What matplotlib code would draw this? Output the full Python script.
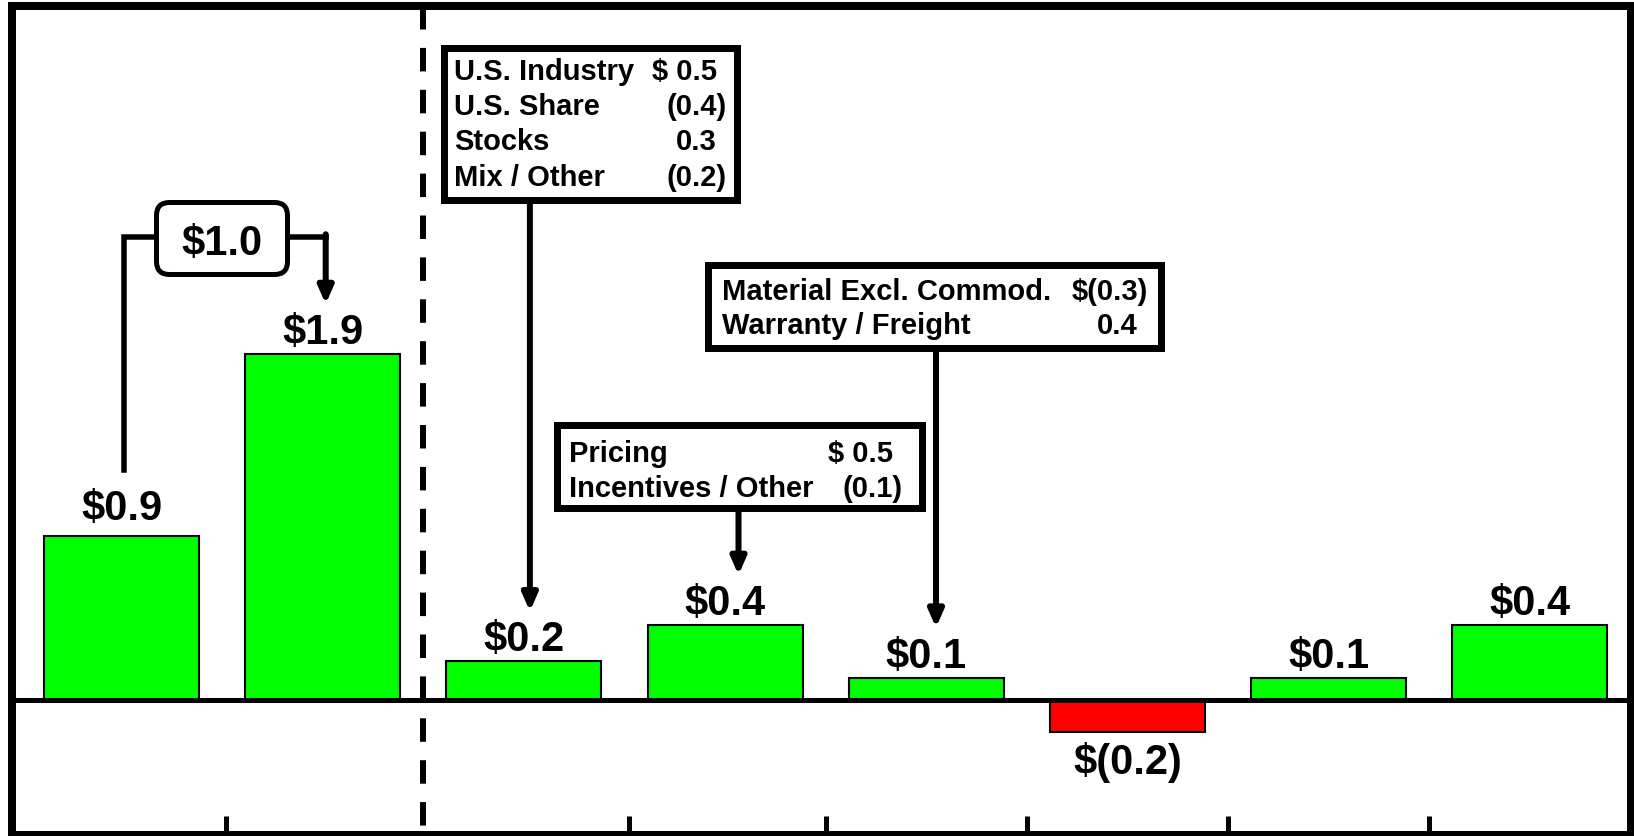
import numpy as np
import matplotlib
matplotlib.use('Agg')
import matplotlib.pyplot as plt
import matplotlib.transforms as mtransforms
from matplotlib.patches import Rectangle, FancyBboxPatch

plt.rcParams['font.family'] = ['Liberation Sans', 'DejaVu Sans']

# ---------------- data ----------------
values = [0.9, 1.9, 0.21, 0.41, 0.12, -0.18, 0.12, 0.41]

box1_items = ["U.S. Industry", "U.S. Share", "Stocks", "Mix / Other"]
box1_values = ["$ 0.5", "(0.4)", "0.3", "(0.2)"]
box2_items = ["Pricing", "Incentives / Other"]
box2_values = ["$ 0.5", "(0.1)"]
box3_items = ["Material Excl. Commod.", "Warranty / Freight"]
box3_values = ["$(0.3)", "0.4"]


def fmt(v):
    return f"${v:.1f}" if v >= 0 else f"$({abs(v):.1f})"


# ---------------- layout (reference pixels) ----------------
W, H, DPI = 1634, 836, 100
X0, Y0 = 121.5, 699.5      # pixel of data (0, 0)
SX, SY = 201.2, 181.8      # pixels per data unit
L, R, T, B = 12, 1631, 6, 835

fig = plt.figure(figsize=(W / DPI, H / DPI), dpi=DPI)
ax = fig.add_axes([L / W, 1 - B / H, (R - L) / W, (B - T) / H])
ax.set_xlim((L - X0) / SX, (R - X0) / SX)
ax.set_ylim((Y0 - B) / SY, (Y0 - T) / SY)

PX = mtransforms.Affine2D().scale(1, -1).translate(0, H)


def xd(px):
    return (px - X0) / SX


def yd(py):
    return (Y0 - py) / SY


def pxu(p):          # pixel length -> data y units
    return p / SY


def pt(p):           # pixels -> points
    return p * 72 / DPI


# ---------------- bars ----------------
x = np.arange(len(values))
colors = ['#00ff00' if v >= 0 else '#ff0000' for v in values]
ax.bar(x, values, width=0.77, color=colors, edgecolor='black',
       linewidth=1.5, zorder=2)
ax.axhline(0, color='black', lw=pt(5), zorder=3)

label_gap = {0: 16}   # pixel gap between bar top and label baseline
for i, v in enumerate(values):
    if v >= 0:
        ax.annotate(fmt(v), xy=(i, v), xytext=(0, pt(label_gap.get(i, 10))),
                    textcoords='offset points', ha='center', va='baseline',
                    fontsize=30, fontweight='bold', zorder=5)
    else:
        ax.annotate(fmt(v), xy=(i, v), xytext=(0, -pt(42)),
                    textcoords='offset points', ha='center', va='baseline',
                    fontsize=30, fontweight='bold', zorder=5)

# ---------------- frame / ticks ----------------
for s in ax.spines.values():
    s.set_linewidth(pt(8))
    s.set_color('black')
ax.set_xticks([0.52, 2.52, 3.5, 4.5, 5.5, 6.5])
ax.tick_params(axis='x', direction='in', length=pt(19), width=pt(5),
               labelbottom=False, color='black')
ax.set_yticks([])

# dashed divider
lw_d = pt(6)
ax.plot([1.5, 1.5], [yd(T), yd(B)], color='black', lw=lw_d,
        linestyle=(0, (pt(23.5) / lw_d, pt(18.4) / lw_d)), zorder=1,
        solid_capstyle='butt', dash_capstyle='butt')

# ---------------- callout boxes ----------------
BOX_FS = 21


def callout(x0, y0, x1, y1, items, vals, xl, base0, step, rpar):
    lw = 7
    ax.add_patch(Rectangle((xd(x0 + lw / 2), yd(y1 - lw / 2)),
                           xd(x1 - lw / 2) - xd(x0 + lw / 2),
                           yd(y0 + lw / 2) - yd(y1 - lw / 2),
                           fc='white', ec='black', lw=pt(lw), zorder=6))
    for k, (it, vv) in enumerate(zip(items, vals)):
        yb = yd(base0 + k * step)
        ax.text(xd(xl), yb, it, ha='left', va='baseline', fontsize=BOX_FS,
                fontweight='bold', zorder=7)
        xr = rpar if vv.endswith(')') else rpar - 10
        ax.text(xd(xr), yb, vv, ha='right', va='baseline', fontsize=BOX_FS,
                fontweight='bold', zorder=7)


ARROW = dict(arrowstyle='-|>,head_length=0.5,head_width=0.22', lw=pt(6),
             color='black', shrinkA=0, shrinkB=0, mutation_scale=20)


def arrow_to_bar(i, dx_px, y_from_px):
    xa = i + dx_px / SX
    ax.annotate('', xy=(xa, values[i] + pxu(50)), xytext=(xa, yd(y_from_px)),
                arrowprops=ARROW, zorder=5)


callout(440, 45, 740, 203, box1_items, box1_values, 454, 80, 35.2, 727)
arrow_to_bar(2, 6, 203)

callout(553, 422, 925, 512, box2_items, box2_values, 569, 462, 35, 903)
arrow_to_bar(3, 13.4, 512)

callout(704, 261, 1164, 351, box3_items, box3_values, 722, 300, 34, 1148)
arrow_to_bar(4, 9.7, 351)

# ---------------- $1.0 bracket ----------------
diff = values[1] - values[0]
yh = yd(237)
bx0, bx1 = 154, 290
xl_ = 0 + 2.5 / SX
xr_ = 1 + 3 / SX
ax.plot([xl_, xl_, xd(bx0)], [values[0] + pxu(66), yh, yh], color='black',
        lw=pt(5.5), solid_joinstyle='miter', zorder=5)
ax.plot([xd(bx1), xr_], [yh, yh], color='black', lw=pt(5.5), zorder=5)
ax.annotate('', xy=(xr_, values[1] + pxu(50)), xytext=(xr_, yh + pxu(2.75)),
            arrowprops=ARROW, zorder=5)
ax.add_patch(FancyBboxPatch((bx0 + 2.5, 200 + 2.5), bx1 - bx0 - 5, 77 - 5,
                            boxstyle='round,pad=0,rounding_size=13',
                            transform=PX, fc='white', ec='black', lw=pt(5),
                            zorder=6))
ax.text(xd((bx0 + bx1) / 2), yd(255), fmt(diff), ha='center', va='baseline',
        fontsize=30, fontweight='bold', zorder=7)

fig.savefig('out.png', dpi=DPI)
